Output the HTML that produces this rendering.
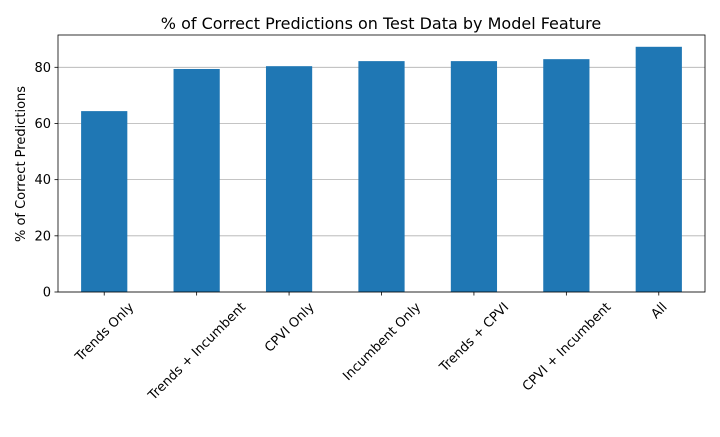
<!DOCTYPE html>
<html><head><meta charset="utf-8"><style>
body{margin:0;background:#fff;font-family:"Liberation Sans","DejaVu Sans",sans-serif;}
svg text{font-family:"DejaVu Sans","Liberation Sans",sans-serif;}
</style></head><body>
<svg id="chart" width="720" height="432" xmlns="http://www.w3.org/2000/svg">
<text x="381" y="29" text-anchor="middle" font-size="16">% of Correct Predictions on Test Data by Model Feature</text>
<text transform="translate(25,164) rotate(-90)" text-anchor="middle" font-size="13">% of Correct Predictions</text>
<g id="grid"></g><g id="bars"></g><g id="axes"></g>
</svg>
<script>
const categories=["Trends Only","Trends + Incumbent","CPVI Only","Incumbent Only","Trends + CPVI","CPVI + Incumbent","All"];
const values=[64.4,79.4,80.4,82.2,82.2,82.9,87.3];
const yTicks=[0,20,40,60,80];
const L=58,R=705,T=35,B=292,yMax=91.5;
const NS="http://www.w3.org/2000/svg";
const step=(R-L)/categories.length;
const x=i=>L+step*(i+0.5);
const y=v=>B-(v/yMax)*(B-T);
function mk(tag,attrs,parent){const e=document.createElementNS(NS,tag);for(const k in attrs)e.setAttribute(k,attrs[k]);parent.appendChild(e);return e;}
const grid=document.getElementById('grid'),bars=document.getElementById('bars'),axes=document.getElementById('axes');
yTicks.forEach(t=>{
  const g=mk('line',{x1:L,x2:R,y1:y(t),y2:y(t),stroke:'#b0b0b0','stroke-width':0.8},grid);
  
  
  mk('line',{x1:L-3.5,x2:L,y1:y(t),y2:y(t),stroke:'#000','stroke-width':0.8},axes);
  const tl=mk('text',{x:L-7,y:y(t)+4.5,'text-anchor':'end','font-size':13},axes);
  tl.textContent=t;
  
  
});
const bw=step*0.5;
categories.forEach((c,i)=>{
  const r=mk('rect',{x:x(i)-bw/2,y:y(values[i]),width:bw,height:B-y(values[i]),fill:'#1f77b4'},bars);
  
  
  mk('line',{x1:x(i),x2:x(i),y1:B,y2:B+3.5,stroke:'#000','stroke-width':0.8},axes);
  const tl=mk('text',{'text-anchor':'middle','font-size':13,x:0,y:0},axes);
  tl.textContent=c;
  
  
  const w=tl.getComputedTextLength(), h=13;
  const half=(w+h)*0.7071/2;
  const cy=B+8+half;
  tl.setAttribute('transform',`translate(${x(i)},${cy}) rotate(-45) translate(0,${h*0.35})`);
});
const fr=mk('rect',{x:L,y:T,width:R-L,height:B-T,fill:'none',stroke:'#000','stroke-width':0.8},axes);


</script>
</body></html>
